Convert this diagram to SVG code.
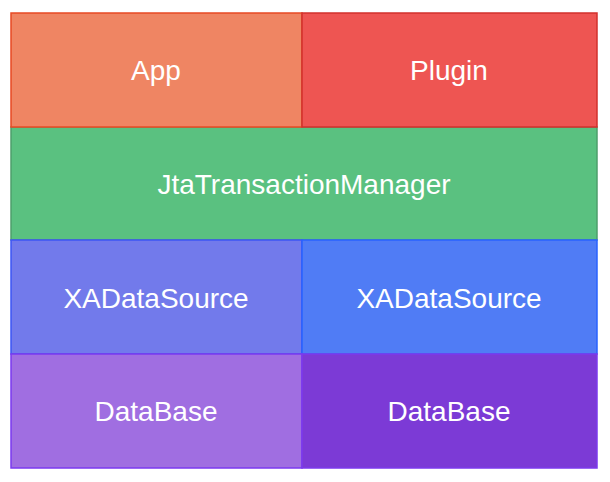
<svg xmlns="http://www.w3.org/2000/svg" width="610" height="482" viewBox="0 0 610 482">
<style>
rect{stroke-width:1.5}
text{font-family:"Liberation Sans",Arial,sans-serif;font-size:28px;fill:#ffffff;text-anchor:middle;dominant-baseline:central}
</style>
<rect x="0" y="0" width="610" height="482" fill="#ffffff" stroke="none"/>
<g id="jta">
<rect x="11" y="127" width="586" height="113" fill="#5AC180" stroke="#4E9E6B"/>
<text x="304" y="184">JtaTransactionManager</text>
</g>
<g id="app">
<rect x="11" y="13" width="291" height="114" fill="#EF8563" stroke="#E84A25"/>
<text x="156" y="70">App</text>
</g>
<g id="plugin">
<rect x="302" y="13" width="295" height="114" fill="#EE5552" stroke="#D2302C"/>
<text x="449" y="70">Plugin</text>
</g>
<g id="xa1">
<rect x="11" y="240" width="291" height="114" fill="#727AEB" stroke="#3D56F5"/>
<text x="156" y="298">XADataSource</text>
</g>
<g id="xa2">
<rect x="302" y="240" width="295" height="114" fill="#507CF5" stroke="#2962FF"/>
<text x="449" y="298">XADataSource</text>
</g>
<g id="db1">
<rect x="11" y="354" width="291" height="114" fill="#A06EE1" stroke="#7B3AF0"/>
<text x="156" y="411">DataBase</text>
</g>
<g id="db2">
<rect x="302" y="354" width="295" height="114" fill="#7C3AD6" stroke="#7C3AED"/>
<text x="449" y="411">DataBase</text>
</g>
<g id="connectors"></g>
</svg>
